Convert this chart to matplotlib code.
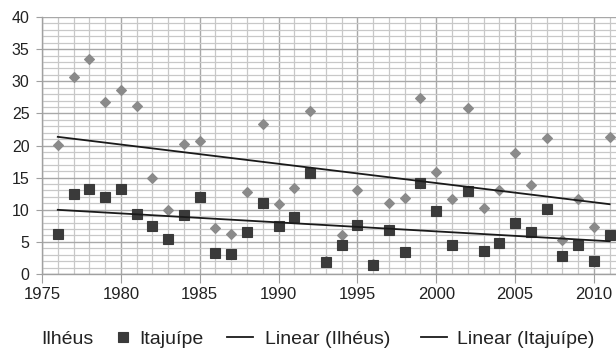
import numpy as np
import matplotlib
matplotlib.use("Agg")
import matplotlib.pyplot as plt
from matplotlib.ticker import MultipleLocator

plt.rcParams['font.family'] = ['Liberation Sans', 'DejaVu Sans']

years = list(range(1976, 2012))
# 1993 and 1996 Ilhéus values sit hidden under the Itajuípe squares
ilheus = [20.1, 30.7, 33.4, 26.8, 28.7, 26.1, 15.0, 10.0, 20.2, 20.7,
          7.2, 6.2, 12.8, 23.3, 10.9, 13.4, 25.4, 2.0, 6.1, 13.0,
          1.5, 11.0, 11.8, 27.4, 15.8, 11.7, 25.9, 10.2, 13.0, 18.9,
          13.9, 21.1, 5.3, 11.6, 7.3, 21.4]
itajuipe = [6.3, 12.5, 13.2, 12.0, 13.2, 9.4, 7.5, 5.4, 9.2, 12.0,
            3.2, 3.1, 6.6, 11.0, 7.4, 8.8, 15.7, 1.8, 4.5, 7.6,
            1.4, 6.8, 3.4, 14.1, 9.8, 4.5, 12.9, 3.6, 4.8, 7.9,
            6.5, 10.1, 2.8, 4.5, 2.0, 6.0]
labels = ['Ilhéus', 'Itajuípe', 'Linear (Ilhéus)', 'Linear (Itajuípe)']

x = np.array(years, dtype=float)
yi = np.array(ilheus, dtype=float)
yt = np.array(itajuipe, dtype=float)

W, H = 616, 348
fig = plt.figure(figsize=(W/100, H/100), dpi=100)
ax = fig.add_axes([42/W, 1-274/H, 1-42/W, (274-17)/H])

ax.set_xlim(1975, 2011.4)
ax.set_ylim(0, 40)
ax.xaxis.set_major_locator(MultipleLocator(5))
ax.xaxis.set_minor_locator(MultipleLocator(1))
ax.yaxis.set_major_locator(MultipleLocator(5))
ax.yaxis.set_minor_locator(MultipleLocator(1))
ax.grid(which='minor', color='#c8c8c8', linewidth=0.9)
ax.grid(which='major', color='#a8a8a8', linewidth=1.0)
ax.set_axisbelow(True)
for s in ['top', 'right']:
    ax.spines[s].set_visible(False)
for s in ['left', 'bottom']:
    ax.spines[s].set_color('#a0a0a0')
    ax.spines[s].set_linewidth(1.0)
ax.tick_params(which='major', color='#a0a0a0', labelcolor='#222222')
ax.tick_params(axis='x', which='major', length=6.5, pad=3.2, labelsize=12)
ax.tick_params(axis='y', which='major', length=4.0, pad=5, labelsize=11.5)
ax.tick_params(which='minor', length=0)

h1, = ax.plot(x, yi, linestyle='none', marker='D', markersize=5.0, markeredgewidth=0.8,
              color='#8a8a8a')
h2, = ax.plot(x, yt, linestyle='none', marker='s', markersize=7.6, markeredgewidth=0.8,
              color='#3a3a3a')

pi = np.polyfit(x, yi, 1)
pt = np.polyfit(x, yt, 1)
xl = np.array([x[0], x[-1]])
h3, = ax.plot(xl, np.polyval(pi, xl), color='#1a1a1a', linewidth=1.3)
h4, = ax.plot(xl, np.polyval(pt, xl), color='#1a1a1a', linewidth=1.3)

fs = 14
em = fs * 100 / 72.0  # px per em
ycen = 1 - 339/H
hl = 26 / em
# (handle, label, handle start px, handletextpad in em)
items = [(h1, labels[0], -30, (41 - (-30 + 26)) / em),
         (h2, labels[1], 109.5, 0.2),
         (h3, labels[2], 227.3, 0.6),
         (h4, labels[3], 421.0, 0.5)]
for h, lab, xs, pad in items:
    lg = fig.legend([h], [lab], loc='center left', bbox_to_anchor=(xs/W, ycen),
                    frameon=False, fontsize=fs, handlelength=hl, handletextpad=pad,
                    borderpad=0, borderaxespad=0, markerscale=1.0)
    for t in lg.get_texts():
        t.set_color('#222222')

fig.savefig('out.png', dpi=100)
